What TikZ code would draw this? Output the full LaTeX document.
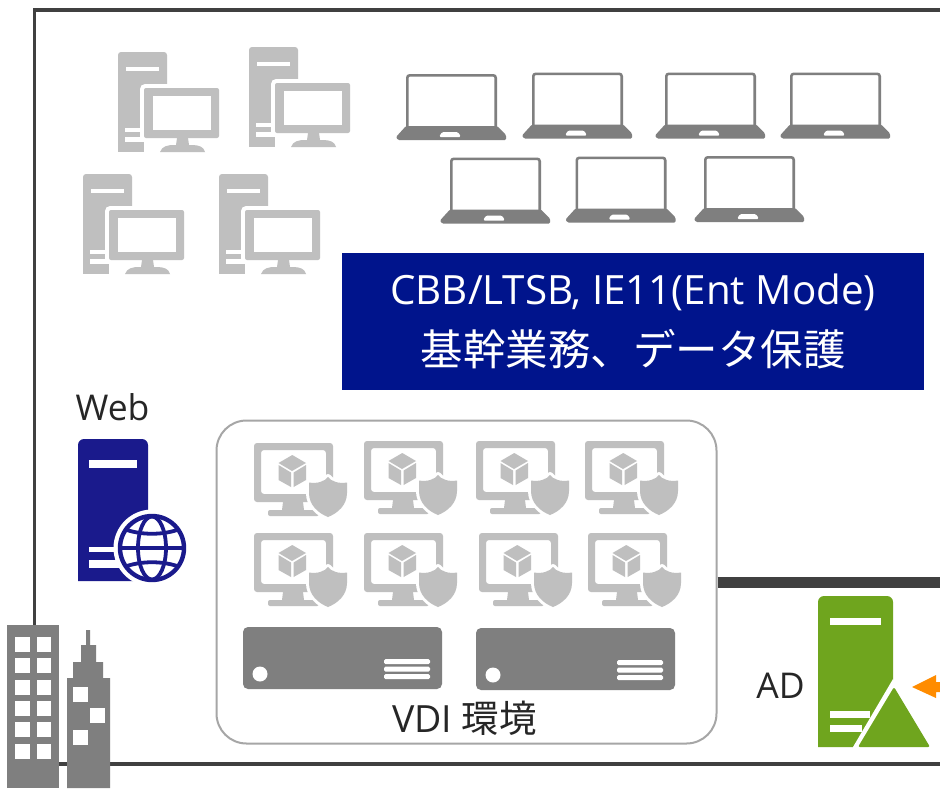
\documentclass[tikz,border=0pt]{standalone}
\usepackage{fontspec}
\setmainfont{Open Sans}
\newfontfamily\cjk{Noto Sans CJK JP}
\definecolor{framegray}{HTML}{404040}
\definecolor{lightgray}{HTML}{BFBFBF}
\definecolor{midgray}{HTML}{7F7F7F}
\definecolor{navybox}{HTML}{00148C}
\definecolor{navyicon}{HTML}{1A1A8C}
\definecolor{adgreen}{HTML}{6FA51E}
\definecolor{adorange}{HTML}{FF8C00}
\definecolor{textgray}{HTML}{262626}
\tikzset{
  framestyle/.style={draw=framegray,line width=3.6pt},
  lbl/.style={inner sep=0pt,text=textgray,font=\fontsize{35.5}{40}\selectfont},
  pics/towerpc/.style={code={
    \fill[lightgray] (0,100) {[rounded corners=3pt] -- (0,0) -- (49,0) -- (49,40)} -- (49,100) -- cycle;
    \fill[white] (8,15) rectangle (41,19);
    \fill[white] (7,76) rectangle (30,80);
    \fill[white] (7,85) rectangle (30,90);
    \fill[white,rounded corners=5pt] (22,32) rectangle (106,110);
    \fill[white] (38,93) rectangle (106,110);
    \fill[white] (0,100) rectangle (60,110);
    \fill[lightgray] (0,90) rectangle (26,100);
    \fill[lightgray,rounded corners=2pt] (26,36) rectangle (101,86);
    \fill[white] (35,44) rectangle (93,78);
    \fill[lightgray] (59,86) -- (70,86) -- (71,93) -- (58,93) -- cycle;
    \fill[lightgray] (42,100) .. controls (44,94) and (50,93) .. (56,93) -- (74,93) .. controls (81,93) and (86,95) .. (87,100) -- cycle;
  }},
  pics/laptop/.style={code={
    \draw[midgray,line width=2.6pt,rounded corners=2.5pt] (11.3,54) -- (11.3,1.3) -- (99.7,1.3) -- (99.7,54);
    \fill[midgray,rounded corners=1.2pt] (10,52) -- (101,52) -- (110,61) -- (110,66) -- (2,66) -- (0,63) -- cycle;
    \fill[white,rounded corners=1.5pt] (46,58) -- (62,58) -- (65,63) -- (43,63) -- cycle;
  }},
  pics/vdipc/.style={code={
    \fill[lightgray,rounded corners=3pt,even odd rule] (0,0) rectangle (79,59) (7,7) rectangle (72,51);
    \fill[lightgray] (29,59) -- (49,59) -- (50,67) -- (28,67) -- cycle;
    \fill[lightgray,rounded corners=2pt] (14,67) rectangle (65,73);
    \fill[lightgray] (38.3,12) -- (52,20) -- (38,28) -- (24.5,20) -- cycle;
    \fill[lightgray] (24.5,22) -- (37,29.5) -- (37,44) -- (24.5,37) -- cycle;
    \fill[lightgray] (52,22) -- (39.6,29.5) -- (39.6,44) -- (52,37) -- cycle;
    \path[fill=white,draw=white,line width=6pt,line join=round] (74,34) .. controls (77,38) and (84,41) .. (93,39.5) -- (93,50) .. controls (93,62) and (84,70) .. (74,74) .. controls (64,70) and (55,62) .. (55,50) -- (55,39.5) .. controls (64,41) and (71,38) .. (74,34) -- cycle;
    \fill[lightgray] (74,34) .. controls (77,38) and (84,41) .. (93,39.5) -- (93,50) .. controls (93,62) and (84,70) .. (74,74) .. controls (64,70) and (55,62) .. (55,50) -- (55,39.5) .. controls (64,41) and (71,38) .. (74,34) -- cycle;
  }},
  pics/rackserver/.style={code={
    \fill[midgray,rounded corners=5pt] (0,0) rectangle (199,62);
    \fill[white] (17,47) circle (7.5pt);
    \foreach \yy in {32,39.5,47}{
      \fill[white,rounded corners=1.5pt] (141,\yy) rectangle (187,\yy+5);
    }
  }}
}
\begin{document}
\begin{tikzpicture}[x=1pt,y=-1pt]
\useasboundingbox (0,0) rectangle (940,788);
\clip (0,0) rectangle (940,788);
\fill[white] (0,0) rectangle (940,788);

% outer frame
\coordinate (frameTR) at (940,10);
\coordinate (frameTL) at (34.5,10);
\coordinate (frameBL) at (34.5,764);
\coordinate (frameBR) at (940,764);
\draw[framestyle,line join=miter] (frameTR) -- (frameTL) -- (frameBL) -- (frameBR);

% desktop PCs
\pic at (118,52) {towerpc};
\pic at (249,47) {towerpc};
\pic at (83,174) {towerpc};
\pic at (219,174) {towerpc};

% laptops
\pic at (396,74) {laptop};
\pic at (522,72.5) {laptop};
\pic at (655,72.5) {laptop};
\pic at (780,72.5) {laptop};
\pic at (440,157.5) {laptop};
\pic at (565.5,156.5) {laptop};
\pic at (694,156) {laptop};

% blue box
\node[fill=navybox,minimum width=582pt,minimum height=137pt,inner sep=0pt,text=white,align=center,
      font=\fontsize{40.3}{62}\selectfont] (bluebox) at (633,321.5)
  {CBB/LTSB, IE11(Ent Mode)\\[-1pt]{\cjk\fontsize{42.5}{62}\selectfont 基幹業務、データ保護}};

% Web server
\node[lbl] (weblabel) at (112.5,407.5) {Web};
\fill[navyicon] (78,581) {[rounded corners=6pt] -- (78,439) -- (148,439) -- (148,500)} -- (148,581) -- cycle;
\fill[white] (89,460) rectangle (137,467.5);
\fill[white] (89,547) rectangle (125,552);
\fill[white] (89,560) rectangle (125,567.5);
\fill[white] (152,548) circle (38.5pt);
\begin{scope}[navyicon,line width=3.8pt]
  \node[draw=navyicon,line width=4.4pt,circle,minimum size=64pt,inner sep=0pt] (globe) at (152,548) {};
  \draw (globe.center) ellipse (14pt and 31.5pt);
  \draw (globe.west) -- (globe.east);
  \draw (127,530) .. controls (142,535) and (162,535) .. (177,530);
  \draw (127,566) .. controls (142,561) and (162,561) .. (177,566);
\end{scope}

% VDI group
\node[draw=black!35,line width=2pt,rounded corners=30pt,minimum width=500pt,minimum height=323pt,inner sep=0pt] (vdi) at (466.5,582) {};
\coordinate (linkR) at (940,582);
\draw[draw=framegray,line width=11pt] (vdi.east) -- (linkR);
\pic at (254,443) {vdipc};
\pic at (364,441) {vdipc};
\pic at (476,441) {vdipc};
\pic at (585,441) {vdipc};
\pic at (254,533) {vdipc};
\pic at (364,533) {vdipc};
\pic at (479,533) {vdipc};
\pic at (588,533) {vdipc};
\pic at (243,627) {rackserver};
\pic at (476,628) {rackserver};
\node[lbl,font=\fontsize{37.5}{40}\selectfont] (vdilabel) at (464.5,718) {VDI {\cjk 環境}};

% buildings
\fill[midgray] (7.3,625) rectangle (59.3,788);
\foreach \yy in {637,658.3,679.6,701,722.3,743.6}{
  \fill[white] (15,\yy) rectangle (29.5,\yy+15);
  \fill[white] (37,\yy) rectangle (51,\yy+15);
}
\fill[midgray] (67,788) -- (67,678) -- (73,678) -- (73,662) -- (81,662) -- (81,645) -- (86,645) -- (86,630) -- (90,630) -- (90,645) -- (96,645) -- (96,662) -- (103,662) -- (103,678) -- (110,678) -- (110,788) -- cycle;
\fill[white] (73,687) rectangle (88,702);
\fill[white] (90,708) rectangle (105,723);
\fill[white] (73,730) rectangle (88,745);

% AD server
\node[lbl] (adlabel) at (780.5,686) {AD};
\fill[adgreen] (818,747) {[rounded corners=6pt] -- (818,596) -- (893,596) -- (893,650)} -- (893,747) -- cycle;
\fill[white] (830,618) rectangle (881,625);
\fill[white] (830,711) rectangle (870,717.5);
\fill[white] (830,725) rectangle (862,732);
\fill[white] (893,679) -- (940,760) -- (853,760) -- (853,747) -- cycle;
\fill[adgreen,rounded corners=2pt] (894,687) -- (930,747) -- (858,747) -- cycle;
\fill[adorange] (912,687) -- (936,675) -- (936,682) -- (940,682) -- (940,692) -- (936,692) -- (936,698) -- cycle;
\end{tikzpicture}
\end{document}
